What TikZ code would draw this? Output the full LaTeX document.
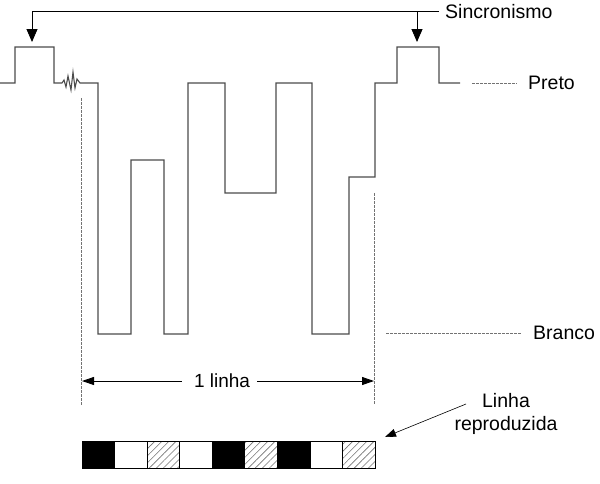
\documentclass[tikz,border=0pt]{standalone}
\usepackage{fontspec}
\setmainfont{Liberation Sans}
\usetikzlibrary{arrows.meta,patterns.meta}
\begin{document}
\begin{tikzpicture}[x=1pt,y=-1pt,
  wave/.style={line width=1.1pt, draw=black!70, line join=miter},
  guide/.style={line width=0.9pt, draw=black!55, dash pattern=on 2.5pt off 1.5pt},
  lbl/.style={font=\fontsize{19.5}{23}\selectfont, inner sep=0pt},
  arr/.style={line width=0.9pt, -{Triangle[length=13pt,width=11pt]}},
  dim/.style={line width=0.9pt, -{Triangle[length=12pt,width=8pt]}},
  cellblack/.style={draw=black, line width=0.8pt, fill=black},
  cellwhite/.style={draw=black, line width=0.8pt, fill=white},
  cellhatch/.style={draw=black, line width=0.8pt, pattern={Lines[angle=45,distance=5pt,line width=0.6pt]}, pattern color=black!55}
]
\useasboundingbox (0,0) rectangle (600,483);

% labels
\node[lbl, anchor=west] (sync) at (445,12) {Sincronismo};
\node[lbl, anchor=west] (preto) at (528,83) {Preto};
\node[lbl, anchor=west] (branco) at (533,333) {Branco};
\node[lbl, font=\fontsize{19}{23}\selectfont] (linha) at (222,381) {1 linha};
\node[lbl, align=center, font=\fontsize{19.5}{23}\selectfont] (repro) at (506,414) {Linha\\reproduzida};

% waveform
\draw[wave] (0,83) -- (15,83) -- (15,47) -- (54,47) -- (54,83) -- (62,83)
  -- (64,80) -- (66,87) -- (68,76) -- (71,90) -- (73,72) -- (75,88) -- (77,79) -- (80,83)
  -- (98,83) -- (98,334) -- (131,334) -- (131,160) -- (164,160) -- (164,334)
  -- (188,334) -- (188,83) -- (225,83) -- (225,193) -- (276,193) -- (276,83)
  -- (312,83) -- (312,334) -- (349,334) -- (349,177) -- (375,177) -- (375,83)
  -- (397,83) -- (397,47) -- (439,47) -- (439,83) -- (460,83);

% sync arrows
\coordinate (t1) at (32,42);
\coordinate (j2) at (417,11);
\coordinate (t2) at (417,42);
\draw[arr] ([xshift=-6pt,yshift=1pt]sync.west) -- (32,11) -- (t1);
\draw[arr] (j2) -- (t2);

% level guides
\coordinate (pa) at (472,83);
\draw[guide] (pa) -- ([xshift=-11pt]preto.west);
\coordinate (ba) at (386,333);
\draw[guide] (ba) -- ([xshift=-11pt]branco.west);

% vertical dashed line markers
\coordinate (v1a) at (81,98);
\coordinate (v1b) at (81,405);
\coordinate (v2a) at (374,193);
\coordinate (v2b) at (374,405);
\draw[guide] (v1a) -- (v1b);
\draw[guide] (v2a) -- (v2b);

% 1 linha dimension
\coordinate (la) at (82,381);
\coordinate (lb) at (374,381);
\draw[dim] ([xshift=-12pt]linha.west) -- (la);
\draw[dim] ([xshift=7pt]linha.east) -- (lb);

% reproduced line arrow
\coordinate (rs) at (466,404);
\coordinate (rt) at (385,437);
\draw[line width=0.6pt, -{Triangle[length=11pt,width=8pt]}] (rs) -- (rt);

% reproduced bar
\def\cw{32.56}
\foreach \i/\s in {0/cellblack,1/cellwhite,2/cellhatch,3/cellwhite,4/cellblack,5/cellhatch,6/cellblack,7/cellwhite,8/cellhatch}{
  \draw[\s] ({82+\i*\cw},441) rectangle ({82+(\i+1)*\cw},468);
}
\end{tikzpicture}
\end{document}
